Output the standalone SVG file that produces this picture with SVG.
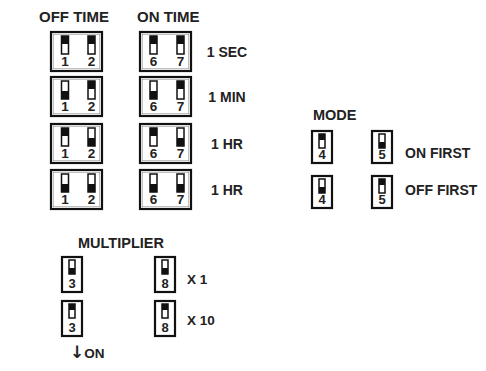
<svg xmlns="http://www.w3.org/2000/svg" xmlns:xlink="http://www.w3.org/1999/xlink" width="486" height="371" viewBox="0 0 486 371">
<style>
.box{fill:#fff;stroke:#111;stroke-width:2.2}
.inner{fill:none;stroke:#777;stroke-width:0.5}
.sw{fill:#fff;stroke:#111;stroke-width:1.5}
.k{fill:#111}
.num{font-family:"Liberation Sans",Arial,sans-serif;font-weight:bold;font-size:13.5px;text-anchor:middle;fill:#222}
.nums{font-family:"Liberation Sans",Arial,sans-serif;font-weight:bold;font-size:13px;text-anchor:middle;fill:#222}
.lbl{font-family:"Liberation Sans",Arial,sans-serif;font-weight:bold;fill:#222}
</style>
<defs>
<g id="bT"><rect class="sw" x="0" y="0" width="7" height="18"/><rect class="k" x="0" y="0" width="7" height="8"/></g>
<g id="bB"><rect class="sw" x="0" y="0" width="7" height="18"/><rect class="k" x="0" y="10" width="7" height="8"/></g>
<g id="sT"><rect class="sw" x="0" y="0" width="6" height="14"/><rect class="k" x="0" y="0" width="6" height="6"/></g>
<g id="sB"><rect class="sw" x="0" y="0" width="6" height="14"/><rect class="k" x="0" y="8" width="6" height="6"/></g>
</defs>
<rect width="486" height="371" fill="#fff"/>
<g id="labels">
<text class="lbl" x="39" y="22" font-size="15">OFF TIME</text>
<text class="lbl" x="137" y="22" font-size="15">ON TIME</text>
<text class="lbl" x="227" y="57" font-size="14" text-anchor="middle">1 SEC</text>
<text class="lbl" x="227" y="102" font-size="14" text-anchor="middle">1 MIN</text>
<text class="lbl" x="227" y="149" font-size="14" text-anchor="middle">1 HR</text>
<text class="lbl" x="227" y="195" font-size="14" text-anchor="middle">1 HR</text>
<text class="lbl" x="313" y="120" font-size="14.5">MODE</text>
<text class="lbl" x="405" y="158" font-size="14">ON FIRST</text>
<text class="lbl" x="405" y="195" font-size="14">OFF FIRST</text>
<text class="lbl" x="78" y="248" font-size="14.5">MULTIPLIER</text>
<text class="lbl" x="187" y="284" font-size="13.5">X 1</text>
<text class="lbl" x="187" y="325" font-size="13.5">X 10</text>
<text class="lbl" x="70" y="358" font-size="13.5"><tspan font-family="'DejaVu Sans',sans-serif" font-size="17">↓</tspan>ON</text>
</g>
<g id="off1"><rect class="box" x="51" y="32" width="51" height="39"/><rect class="inner" x="53.2" y="34.2" width="46.6" height="34.6"/><use xlink:href="#bT" x="61.5" y="36"/><use xlink:href="#bT" x="88" y="36"/><text class="num" x="65" y="66">1</text><text class="num" x="91.5" y="66">2</text></g>
<g id="off2"><rect class="box" x="51" y="77" width="51" height="39"/><rect class="inner" x="53.2" y="79.2" width="46.6" height="34.6"/><use xlink:href="#bB" x="61.5" y="81"/><use xlink:href="#bT" x="88" y="81"/><text class="num" x="65" y="111">1</text><text class="num" x="91.5" y="111">2</text></g>
<g id="off3"><rect class="box" x="51" y="124" width="51" height="39"/><rect class="inner" x="53.2" y="126.2" width="46.6" height="34.6"/><use xlink:href="#bT" x="61.5" y="128"/><use xlink:href="#bB" x="88" y="128"/><text class="num" x="65" y="158">1</text><text class="num" x="91.5" y="158">2</text></g>
<g id="off4"><rect class="box" x="51" y="170" width="51" height="39"/><rect class="inner" x="53.2" y="172.2" width="46.6" height="34.6"/><use xlink:href="#bB" x="61.5" y="174"/><use xlink:href="#bB" x="88" y="174"/><text class="num" x="65" y="204">1</text><text class="num" x="91.5" y="204">2</text></g>
<g id="on1"><rect class="box" x="140" y="32" width="51" height="39"/><rect class="inner" x="142.2" y="34.2" width="46.6" height="34.6"/><use xlink:href="#bT" x="150" y="36"/><use xlink:href="#bT" x="177" y="36"/><text class="num" x="153.5" y="66">6</text><text class="num" x="180.5" y="66">7</text></g>
<g id="on2"><rect class="box" x="140" y="77" width="51" height="39"/><rect class="inner" x="142.2" y="79.2" width="46.6" height="34.6"/><use xlink:href="#bB" x="150" y="81"/><use xlink:href="#bT" x="177" y="81"/><text class="num" x="153.5" y="111">6</text><text class="num" x="180.5" y="111">7</text></g>
<g id="on3"><rect class="box" x="140" y="124" width="51" height="39"/><rect class="inner" x="142.2" y="126.2" width="46.6" height="34.6"/><use xlink:href="#bT" x="150" y="128"/><use xlink:href="#bB" x="177" y="128"/><text class="num" x="153.5" y="158">6</text><text class="num" x="180.5" y="158">7</text></g>
<g id="on4"><rect class="box" x="140" y="170" width="51" height="39"/><rect class="inner" x="142.2" y="172.2" width="46.6" height="34.6"/><use xlink:href="#bB" x="150" y="174"/><use xlink:href="#bB" x="177" y="174"/><text class="num" x="153.5" y="204">6</text><text class="num" x="180.5" y="204">7</text></g>
<g id="mode4a"><rect class="box" x="312" y="131" width="20" height="32"/><use xlink:href="#sT" x="319" y="134"/><text class="nums" x="322" y="159">4</text></g>
<g id="mode4b"><rect class="box" x="312" y="176" width="20" height="32"/><use xlink:href="#sB" x="319" y="179"/><text class="nums" x="322" y="204">4</text></g>
<g id="mode5a"><rect class="box" x="372" y="131" width="20" height="32"/><use xlink:href="#sB" x="379" y="134"/><text class="nums" x="382" y="159">5</text></g>
<g id="mode5b"><rect class="box" x="372" y="176" width="20" height="32"/><use xlink:href="#sT" x="379" y="179"/><text class="nums" x="382" y="204">5</text></g>
<g id="mult3a"><rect class="box" x="62" y="257" width="20" height="35"/><use xlink:href="#sB" x="69" y="260"/><text class="nums" x="72" y="288">3</text></g>
<g id="mult3b"><rect class="box" x="62" y="301" width="20" height="35"/><use xlink:href="#sT" x="69" y="304"/><text class="nums" x="72" y="332">3</text></g>
<g id="mult8a"><rect class="box" x="155" y="257" width="20" height="35"/><use xlink:href="#sB" x="162" y="260"/><text class="nums" x="165" y="288">8</text></g>
<g id="mult8b"><rect class="box" x="155" y="301" width="20" height="35"/><use xlink:href="#sT" x="162" y="304"/><text class="nums" x="165" y="332">8</text></g>
<g id="connectors"/>
</svg>
